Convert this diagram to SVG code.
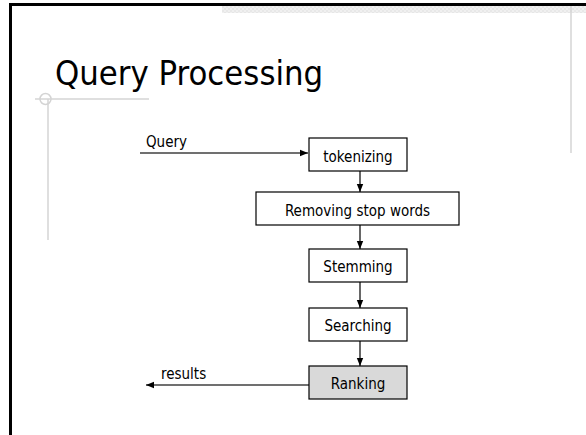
<svg xmlns="http://www.w3.org/2000/svg" width="586" height="435" viewBox="0 0 586 435">
  <defs>
    <style>
      .box { fill: #ffffff; stroke: #000000; stroke-width: 1.2; }
      .box.hl { fill: #d9d9d9; }
      .lbl { font-family: "DejaVu Sans Condensed", "DejaVu Sans", sans-serif; font-size: 15px; fill: #000000; }
      .mid { text-anchor: middle; }
      .flow { stroke: #000000; stroke-width: 1.2; fill: none; }
      .io { stroke: #707070; stroke-width: 2; fill: none; }
      .deco { stroke: #d4d4d4; stroke-width: 1.5; fill: none; }
    </style>
    <marker id="head" viewBox="0 0 8 8" refX="8" refY="4" markerWidth="8" markerHeight="8" markerUnits="userSpaceOnUse" orient="auto">
      <path d="M0,0.8 L8,4 L0,7.2 Z" fill="#000000"/>
    </marker>
    <pattern id="grain" width="4" height="4" patternUnits="userSpaceOnUse">
      <rect width="4" height="4" fill="#f0f0f0"/>
      <rect width="2" height="2" fill="#e6e6e6"/>
      <rect x="2" y="2" width="2" height="2" fill="#e8e8e8"/>
    </pattern>
  </defs>

  <!-- slide frame and template decoration -->
  <g id="frame">
    <rect x="222" y="6" width="364" height="7" fill="url(#grain)"/>
    <line x1="10.5" y1="4.5" x2="586" y2="4.5" stroke="#000000" stroke-width="3"/>
    <line x1="10.5" y1="3" x2="10.5" y2="435" stroke="#000000" stroke-width="3"/>
    <line class="deco" x1="571" y1="6" x2="571" y2="153" stroke-width="2"/>
    <line class="deco" x1="35" y1="99" x2="149" y2="99"/>
    <line class="deco" x1="48" y1="99" x2="48" y2="240"/>
    <circle class="deco" cx="45.5" cy="99" r="5.5"/>
  </g>

  <text id="title" x="55" y="85" font-family="'DejaVu Sans Condensed', 'DejaVu Sans', sans-serif" font-size="34.3" fill="#000000">Query Processing</text>

  <!-- connectors -->
  <g id="connectors">
    <line class="io" x1="140" y1="153" x2="308" y2="153" marker-end="url(#head)"/>
    <line class="flow" x1="360" y1="171" x2="360" y2="192" marker-end="url(#head)"/>
    <line class="flow" x1="360" y1="225" x2="360" y2="249" marker-end="url(#head)"/>
    <line class="flow" x1="360" y1="282" x2="360" y2="308" marker-end="url(#head)"/>
    <line class="flow" x1="360" y1="341" x2="360" y2="366" marker-end="url(#head)"/>
    <line class="io" x1="309" y1="385" x2="146" y2="385" marker-end="url(#head)"/>
    <text class="lbl" x="146" y="147">Query</text>
    <text class="lbl" x="161" y="379">results</text>
  </g>

  <!-- processing steps -->
  <g id="tokenizing">
    <rect class="box" x="309" y="138" width="98" height="33"/>
    <text class="lbl mid" x="358" y="162">tokenizing</text>
  </g>
  <g id="removing-stop-words">
    <rect class="box" x="256" y="192" width="203" height="33"/>
    <text class="lbl mid" x="357.5" y="215.5">Removing stop words</text>
  </g>
  <g id="stemming">
    <rect class="box" x="309" y="249" width="98" height="33"/>
    <text class="lbl mid" x="358" y="272">Stemming</text>
  </g>
  <g id="searching">
    <rect class="box" x="309" y="308" width="98" height="33"/>
    <text class="lbl mid" x="358" y="331">Searching</text>
  </g>
  <g id="ranking">
    <rect class="box hl" x="309" y="366" width="98" height="33"/>
    <text class="lbl mid" x="358" y="389">Ranking</text>
  </g>
</svg>
